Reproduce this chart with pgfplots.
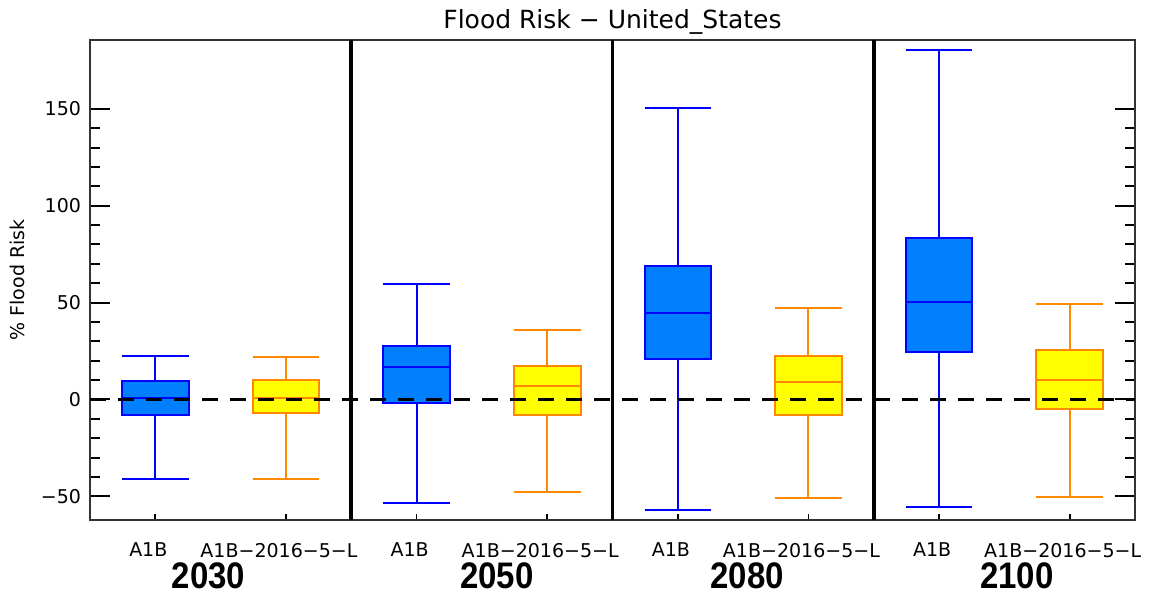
\documentclass[border=0pt]{standalone}
\usepackage{pgfplots}
\pgfplotsset{compat=1.18}
\usepgfplotslibrary{statistics}
\usepackage{fontspec}
\setmainfont{DejaVu Sans}
\newfontfamily\grpfont{Liberation Sans}
\definecolor{boxblue}{RGB}{0,128,255}
\definecolor{edgeblue}{RGB}{0,0,255}
\definecolor{boxyel}{RGB}{255,255,0}
\definecolor{edgeorg}{RGB}{255,136,0}
\pgfplotsset{
  A/.style n args={6}{draw=edgeblue, fill=boxblue, line width=1pt, solid,
    boxplot/draw direction=y,
    boxplot prepared={draw position=#1, lower whisker=#2, lower quartile=#3,
      median=#4, upper quartile=#5, upper whisker=#6, box extend=0.51, whisker extend=0.51}},
  B/.style n args={6}{draw=edgeorg, fill=boxyel, line width=1pt, solid,
    boxplot/draw direction=y,
    boxplot prepared={draw position=#1, lower whisker=#2, lower quartile=#3,
      median=#4, upper quartile=#5, upper whisker=#6, box extend=0.51, whisker extend=0.51}},
}
\newcommand{\grp}[1]{{\grpfont\bfseries\fontsize{16.5}{18}\selectfont\scalebox{1}[1.12]{#1}}}
\begin{document}
\begin{tikzpicture}
\path[use as bounding box] (-45pt,-38pt) rectangle (529.5pt,260pt);
\begin{axis}[
  at={(0,0)}, anchor=south west,
  scale only axis, width=522.5pt, height=240pt,
  xmin=0, xmax=8, ymin=-62.2, ymax=185.5,
  clip=false,
  axis line style={line width=1pt, black!80},
  tick align=inside,
  xtick pos=bottom, ytick pos=both,
  xtick={0.5,1.5,2.5,3.5,4.5,5.5,6.5,7.5},
  xticklabels={A1B,A1B−2016−5−L,A1B,A1B−2016−5−L,A1B,A1B−2016−5−L,A1B,A1B−2016−5−L},
  xtick style={/pgfplots/major tick length=3.2pt, line width=0.9pt, black},
  ytick={-50,0,50,100,150},
  yticklabels={−50,0,50,100,150},
  minor y tick num=4,
  major tick length=10pt, minor tick length=5pt,
  ytick style={line width=1pt, black},
  minor tick style={line width=1pt, black},
  ticklabel style={font=\fontsize{9.5}{11}\selectfont},
  xticklabel style={yshift=-8pt, xshift=-3.5pt},
  yticklabel style={xshift=-1pt},
  title={Flood Risk − United\_States},
  every axis title/.style={at={(0.5,1)}, anchor=base, yshift=5.8pt, font=\fontsize{12.5}{14}\selectfont},
  ylabel={\% Flood Risk},
  every axis y label/.style={at={(rel axis cs:0,0.5)}, xshift=-36.5pt, rotate=90, anchor=center, font=\fontsize{9.5}{11}\selectfont},
]
% 2030
\addplot[A={0.5}{-41}{-8}{1}{9.5}{22.3}] coordinates {};
\addplot[B={1.5}{-41}{-7}{1}{10}{22}] coordinates {};
% 2050
\addplot[A={2.5}{-53.5}{-1.9}{16.5}{27.6}{59.6}] coordinates {};
\addplot[B={3.5}{-47.5}{-7.9}{7.2}{17.3}{36}] coordinates {};
% 2080
\addplot[A={4.5}{-56.8}{20.7}{44.4}{69}{150.3}] coordinates {};
\addplot[B={5.5}{-50.6}{-8}{9}{22.4}{47.3}] coordinates {};
% 2100
\addplot[A={6.5}{-55.4}{24.5}{50.4}{83.3}{180.1}] coordinates {};
\addplot[B={7.5}{-50.4}{-5}{10.3}{25.5}{49.4}] coordinates {};
% zero line
\addplot[black, line width=1.1pt, dash pattern=on 8pt off 6pt] coordinates {(0,0) (8,0)};
% dividers
\foreach \xx in {2,4,6} {
  \edef\temp{\noexpand\draw[line width=1.8pt, black] (axis cs:\xx,-62.2) -- (axis cs:\xx,185.5);}
  \temp
}
\node at (axis cs:0.907,-62.2) [yshift=-28pt] {\grp{2030}};
\node at (axis cs:3.114,-62.2) [yshift=-28pt] {\grp{2050}};
\node at (axis cs:5.03,-62.2) [yshift=-28pt] {\grp{2080}};
\node at (axis cs:7.096,-62.2) [yshift=-28pt] {\grp{2100}};
\end{axis}
\end{tikzpicture}
\end{document}
